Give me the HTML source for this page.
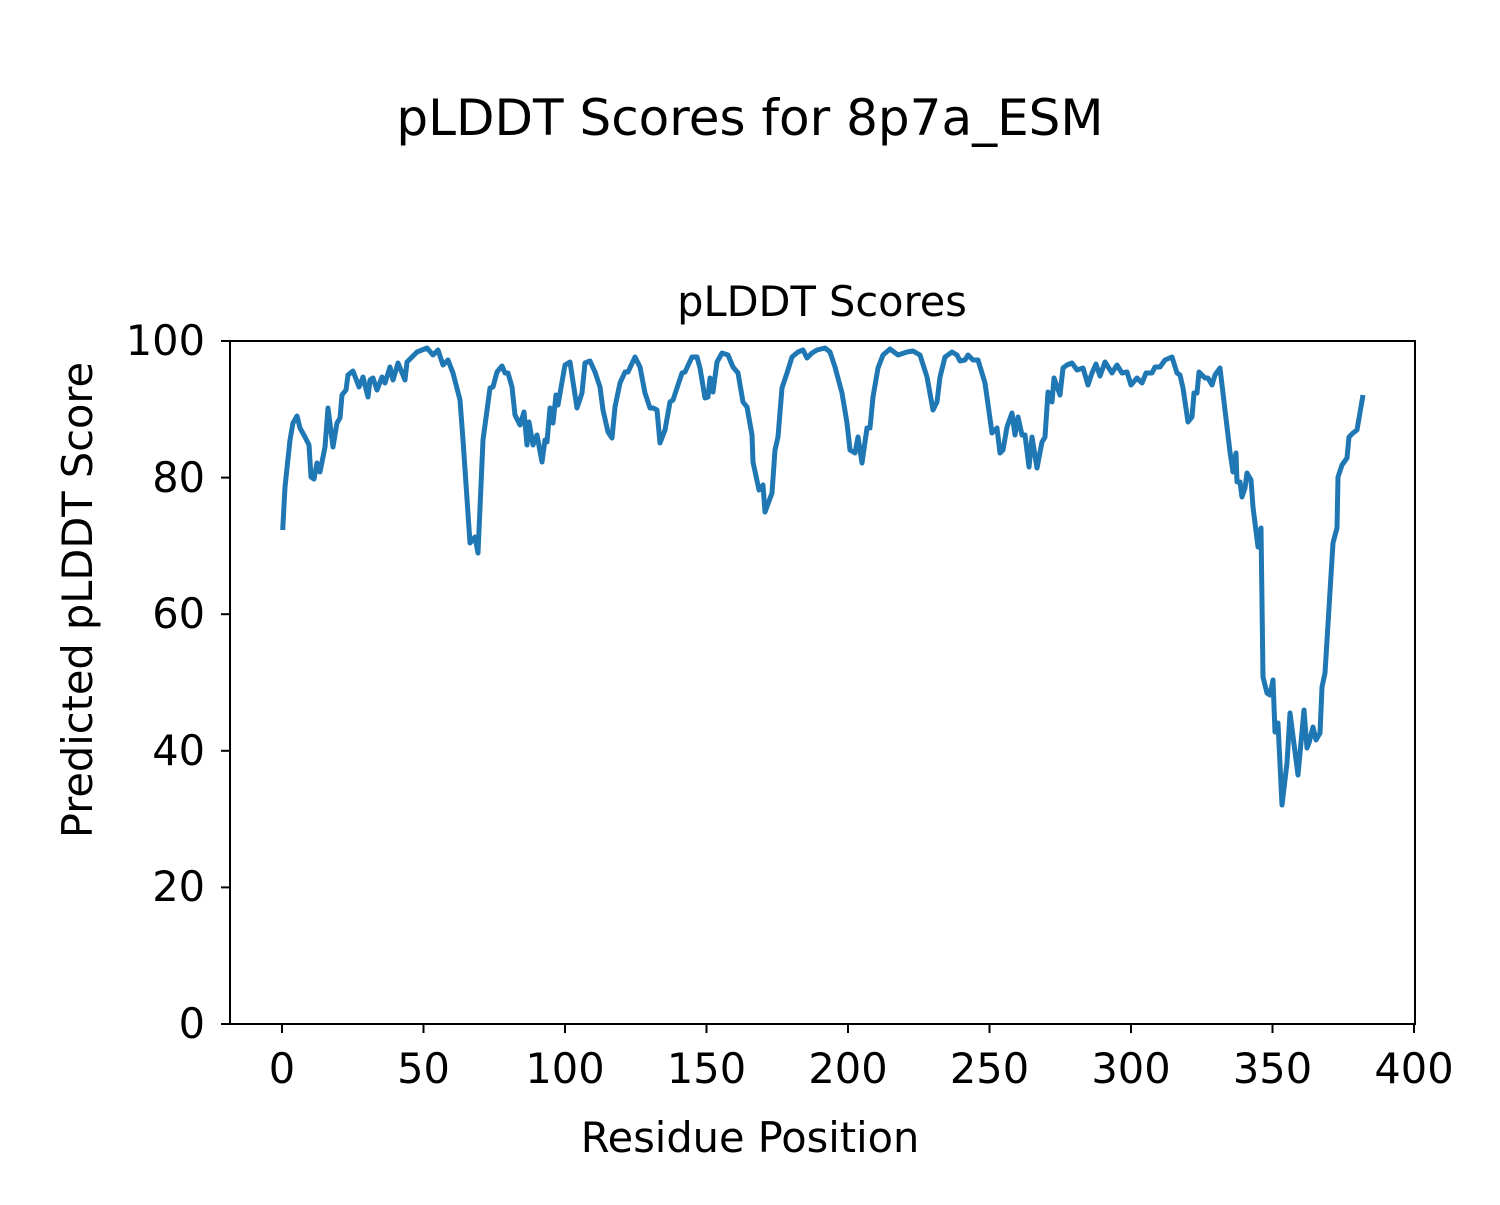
<!DOCTYPE html>
<html><head><style>body{margin:0;background:#fff}</style></head><body>
<svg width="1500" height="1200" xmlns="http://www.w3.org/2000/svg" font-family="'DejaVu Sans','Liberation Sans',sans-serif">
<rect width="1500" height="1200" fill="#fff"/>
<text x="750" y="135" font-size="50" text-anchor="middle">pLDDT Scores for 8p7a_ESM</text>
<text x="822" y="316" font-size="41.5" text-anchor="middle">pLDDT Scores</text>
<polyline fill="none" stroke="#1f77b4" stroke-width="5" stroke-linejoin="round" points="282.7,530 285,487 290,440 293,423 297,416 300,428 305,437 309,445 311,477 314,479 317,463 320,472 325,447 328,408 333,447 337,423 340,418 342,395 346,390 348,375 353,371 359,387 363,377 368,397 370,380 373,378 377,390 382,377 385,383 390,367 393,380 398,363 405,380 407,362 412,357 417,352 427,348 433,355 438,350 443,365 448,360 453,373 460,400 463,440 470,543 475,537 478,553 483,440 490,388 493,387 497,372 502,366 505,373 508,373 512,387 515,415 520,425 524,412 527,445 529,422 533,445 537,435 542,462 545,440 547,442 550,408 553,423 556,395 558,405 562,382 565,365 570,362 577,408 582,393 585,363 590,361 595,372 600,387 603,410 608,432 612,438 615,407 620,383 625,372 628,372 635,357 640,367 645,393 650,408 653,408 657,410 660,443 665,430 670,402 673,400 678,385 682,373 685,372 692,357 697,357 700,368 705,398 708,397 710,378 713,392 717,362 722,353 728,355 733,367 738,373 743,402 747,407 752,435 753,462 759,490 763,485 765,512 772,493 775,450 778,437 782,388 787,373 792,357 798,352 803,350 807,358 812,353 817,350 825,348 830,352 835,367 842,393 847,423 850,450 855,453 858,437 862,463 867,428 870,428 873,397 878,368 883,355 890,349 898,355 907,352 913,351 920,355 927,377 933,410 937,402 940,377 945,357 952,352 957,355 960,361 965,360 968,355 973,360 978,360 985,383 992,433 997,428 1000,453 1003,450 1007,427 1012,413 1015,435 1018,417 1022,435 1025,435 1029,467 1032,437 1037,468 1042,442 1045,437 1048,392 1052,402 1054,378 1060,395 1063,368 1067,365 1072,363 1077,370 1083,368 1088,385 1092,373 1096,364 1100,376 1105,362 1112,373 1117,365 1122,373 1127,372 1131,385 1137,378 1142,383 1146,373 1152,373 1155,367 1160,367 1165,360 1172,357 1177,373 1180,375 1183,388 1188,422 1192,417 1194,393 1197,393 1199,372 1205,378 1208,378 1212,385 1215,375 1220,368 1230,452 1233,472 1236,453 1237,482 1240,482 1242,497 1245,488 1247,473 1251,480 1253,507 1258,547 1261,528 1263,677 1267,693 1270,695 1273,680 1275,732 1278,723 1282,805 1287,763 1290,713 1298,775 1304,710 1307,748 1309,743 1313,727 1316,740 1320,733 1322,687 1325,673 1333,543 1337,528 1338,477 1342,465 1347,458 1349,437 1353,433 1357,430 1363,395"/>
<rect x="230" y="341" width="1185" height="683" fill="none" stroke="#000" stroke-width="2"/>
<g stroke="#000" stroke-width="2">
<line x1="282" y1="1024" x2="282" y2="1033"/><line x1="423.5" y1="1024" x2="423.5" y2="1033"/><line x1="565" y1="1024" x2="565" y2="1033"/><line x1="706.5" y1="1024" x2="706.5" y2="1033"/><line x1="848" y1="1024" x2="848" y2="1033"/><line x1="989.5" y1="1024" x2="989.5" y2="1033"/><line x1="1131" y1="1024" x2="1131" y2="1033"/><line x1="1272.5" y1="1024" x2="1272.5" y2="1033"/><line x1="1414" y1="1024" x2="1414" y2="1033"/>
<line x1="221" y1="1024" x2="230" y2="1024"/><line x1="221" y1="887.4" x2="230" y2="887.4"/><line x1="221" y1="750.8" x2="230" y2="750.8"/><line x1="221" y1="614.2" x2="230" y2="614.2"/><line x1="221" y1="477.6" x2="230" y2="477.6"/><line x1="221" y1="341" x2="230" y2="341"/>
</g>
<g font-size="41.5" text-anchor="middle">
<text x="282" y="1083">0</text><text x="423.5" y="1083">50</text><text x="565" y="1083">100</text><text x="706.5" y="1083">150</text><text x="848" y="1083">200</text><text x="989.5" y="1083">250</text><text x="1131" y="1083">300</text><text x="1272.5" y="1083">350</text><text x="1414" y="1083">400</text>
</g>
<g font-size="41.5" text-anchor="end">
<text x="205" y="1038">0</text><text x="205" y="901">20</text><text x="205" y="765">40</text><text x="205" y="628">60</text><text x="205" y="492">80</text><text x="205" y="355">100</text>
</g>
<text x="750" y="1152" font-size="41.5" text-anchor="middle">Residue Position</text>
<text transform="translate(92,600) rotate(-90)" font-size="41.5" text-anchor="middle">Predicted pLDDT Score</text>
</svg>
</body></html>
